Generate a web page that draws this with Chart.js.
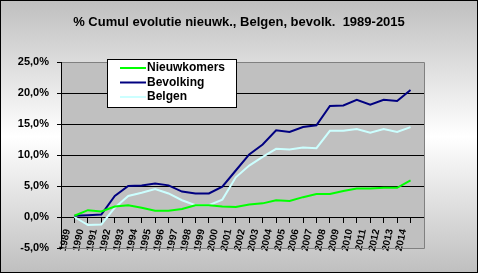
<!DOCTYPE html>
<html>
<head>
<meta charset="utf-8">
<script src="https://cdn.jsdelivr.net/npm/chart.js@4/dist/chart.umd.min.js"></script>
<style>
  html, body { margin: 0; padding: 0; background: #fff; }
  #c { display: block; }
</style>
</head>
<body>
<canvas id="c" width="478" height="273"></canvas>
<script>
// data (cumulative % since 1989)
const years = ['1989', '1990', '1991', '1992', '1993', '1994', '1995', '1996', '1997', '1998', '1999', '2000', '2001',
  '2002', '2003', '2004', '2005', '2006', '2007', '2008', '2009', '2010', '2011', '2012', '2013', '2014'];
const nieuwkomers = [0.2, 1.1, 0.9, 1.7, 1.9, 1.5, 1.0, 1.0, 1.3, 1.9, 1.9, 1.7, 1.6,
  2.0, 2.2, 2.7, 2.6, 3.2, 3.7, 3.7, 4.2, 4.6, 4.6, 4.7, 4.7, 5.9];
const bevolking = [0.2, 0.3, 0.4, 3.4, 5.0, 5.1, 5.4, 5.1, 4.1, 3.8, 3.8, 4.9, 7.5,
  10.1, 11.7, 14.0, 13.7, 14.5, 14.8, 17.9, 18.0, 18.9, 18.1, 18.9, 18.7, 20.5];
const belgen = [0.0, -1.3, -1.2, 1.5, 3.4, 3.9, 4.5, 3.8, 2.7, 1.9, 1.9, 2.8, 6.4,
  8.3, 9.7, 11.0, 10.9, 11.2, 11.1, 13.9, 13.9, 14.2, 13.6, 14.2, 13.7, 14.5];
const yTicks = [-5, 0, 5, 10, 15, 20, 25];

const title = '% Cumul evolutie nieuwk., Belgen, bevolk.  1989-2015';
const FONT = '"Liberation Sans", Arial, sans-serif';

// één lege categorie aan elke kant, zoals in de Excel-grafiek
const labels = [''].concat(years, ['']);
const pad = arr => [null].concat(arr, [null]);

function makeSet(label, data, color) {
  return {
    label,
    data: pad(data),
    borderColor: color,
    backgroundColor: color,
    borderWidth: 2,
    pointRadius: 0,
    tension: 0,
  };
}

// achtergrond, plotvlak, titel en legende
const decor = {
  id: 'decor',
  beforeDraw(chart) {
    const { ctx, width, height, chartArea: a } = chart;
    ctx.save();
    const g = ctx.createLinearGradient(0, 0, 0, height);
    g.addColorStop(0, '#bfbfbf');
    g.addColorStop(0.5, '#ffffff');
    g.addColorStop(1, '#bfbfbf');
    ctx.fillStyle = g;
    ctx.fillRect(0, 0, width, height);
    ctx.strokeStyle = '#000';
    ctx.lineWidth = 1;
    ctx.strokeRect(0.5, 0.5, width - 1, height - 1);
    ctx.fillStyle = '#c0c0c0';
    ctx.fillRect(a.left, a.top, a.right - a.left, a.bottom - a.top);
    ctx.restore();
  },
  beforeDatasetsDraw(chart) {
    const { ctx, chartArea: a } = chart;
    const l = Math.round(a.left) + 0.5, r = Math.round(a.right) + 0.5;
    const t = Math.round(a.top) + 0.5, b = Math.round(a.bottom) + 0.5;
    ctx.save();
    ctx.strokeStyle = '#808080';
    ctx.lineWidth = 1;
    ctx.beginPath();
    ctx.moveTo(l + 1, t);
    ctx.lineTo(r, t);
    ctx.lineTo(r, b);
    ctx.lineTo(l + 1, b);
    ctx.stroke();
    ctx.restore();
  },
  afterDraw(chart) {
    const { ctx } = chart;
    ctx.save();
    // titel
    ctx.fillStyle = '#000';
    ctx.font = 'bold 13px ' + FONT;
    ctx.textAlign = 'center';
    ctx.textBaseline = 'middle';
    ctx.fillText(title, 239, 22);
    // legende
    ctx.font = 'bold 12px ' + FONT;
    ctx.fillStyle = '#fff';
    ctx.fillRect(107, 59, 129, 48);
    ctx.strokeStyle = '#000';
    ctx.lineWidth = 1;
    ctx.strokeRect(107.5, 59.5, 129, 48);
    ctx.textAlign = 'left';
    chart.data.datasets.forEach((ds, i) => {
      const y = 68 + 14.5 * i;
      ctx.strokeStyle = ds.borderColor;
      ctx.lineWidth = 2;
      ctx.beginPath();
      ctx.moveTo(120, y);
      ctx.lineTo(146, y);
      ctx.stroke();
      ctx.fillStyle = '#000';
      ctx.fillText(ds.label, 147, y);
    });
    ctx.restore();
  },
};

new Chart(document.getElementById('c'), {
  type: 'line',
  data: {
    labels,
    datasets: [
      makeSet('Nieuwkomers', nieuwkomers, '#00ff00'),
      makeSet('Bevolking', bevolking, '#000080'),
      makeSet('Belgen', belgen, '#ccffff'),
    ],
  },
  options: {
    responsive: false,
    animation: false,
    devicePixelRatio: 1,
    layout: { padding: { left: 0, top: 62, right: 54, bottom: 25 } },
    plugins: {
      legend: { display: false },
      title: { display: false },
      tooltip: { enabled: false },
    },
    scales: {
      x: {
        position: { y: 0 },
        offset: false,
        grid: { drawOnChartArea: false, color: '#000', tickLength: 5 },
        border: { color: '#000' },
        ticks: {
          autoSkip: false,
          minRotation: 78,
          maxRotation: 78,
          labelOffset: -7,
          padding: 6,
          color: '#000',
          font: { family: FONT, size: 10, weight: 'bold' },
        },
      },
      y: {
        min: yTicks[0],
        max: yTicks[yTicks.length - 1],
        afterFit(scale) { scale.width = 61; },
        afterBuildTicks(scale) { scale.ticks = yTicks.map(v => ({ value: v })); },
        grid: {
          color: c => (c.tick && (c.tick.value === 25 || c.tick.value === -5)) ? '#808080' : '#000',
          tickColor: '#000',
          tickLength: 4,
        },
        border: { color: '#000' },
        ticks: {
          padding: 8,
          color: '#000',
          font: { family: FONT, size: 11, weight: 'bold' },
          callback: v => v.toFixed(1).replace('.', ',') + '%',
        },
      },
    },
  },
  plugins: [decor],
});
</script>
</body>
</html>
